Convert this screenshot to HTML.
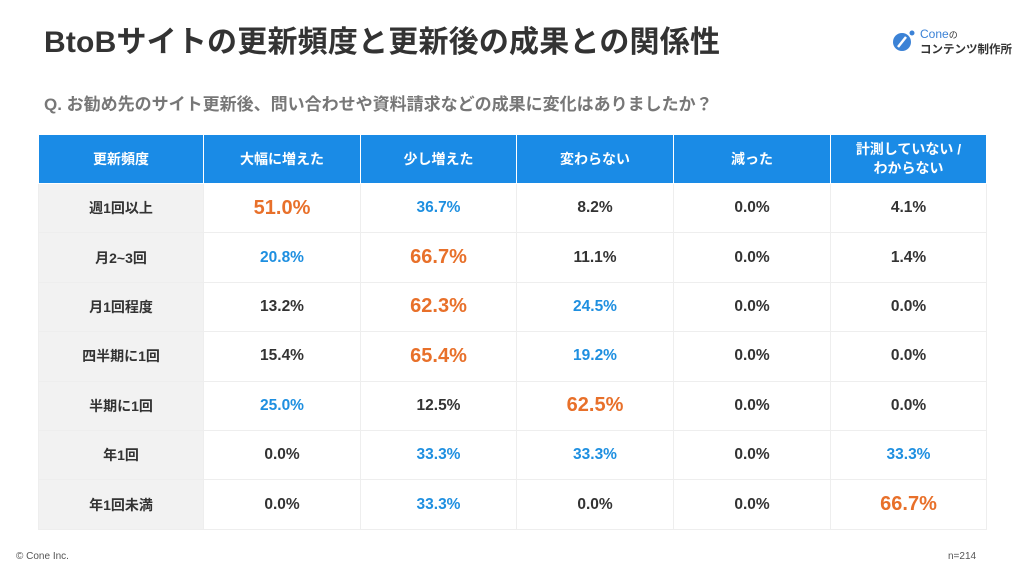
<!DOCTYPE html>
<html><head><meta charset="utf-8"><style>
body{margin:0;width:1024px;height:576px;background:#fff;font-family:"Liberation Sans","Noto Sans CJK JP",sans-serif;position:relative;overflow:hidden;color:#333}
.t{position:absolute;left:44px;top:17px;font-size:30px;font-weight:bold;color:#333;letter-spacing:0.2px}
.q{position:absolute;left:44px;top:90px;font-size:17px;font-weight:bold;color:#777}
table{position:absolute;left:38px;top:134px;border-collapse:collapse;table-layout:fixed}
td,th{text-align:center;border:1px solid #eee;padding:0}
th{background:#1a8be6;color:#fff;font-size:14px;font-weight:bold;height:48px;border:1px solid #fff;line-height:19px}
td{height:48.4px;font-size:15.5px;font-weight:600;color:#333}
td.h{background:#f2f2f2;font-size:14px;font-weight:bold}
.o{color:#e8702a;font-size:20px}
.b{color:#1e8fe0}
.f{position:absolute;font-size:10px;color:#555;top:551px}
</style></head><body>
<div class="t">BtoBサイトの更新頻度と更新後の成果との関係性</div>
<svg style="position:absolute;left:892px;top:29px" width="24" height="24"><circle cx="10" cy="13" r="9" fill="#3b82d6"/><line x1="6" y1="18" x2="14" y2="8" stroke="#fff" stroke-width="2.5"/><circle cx="20" cy="4" r="2.5" fill="#3b82d6"/></svg>
<div style="position:absolute;left:920px;top:27px;font-size:12px;color:#3b82d6">Cone<span style="color:#333;font-size:9px">の</span></div>
<div style="position:absolute;left:920px;top:41px;font-size:11.5px;color:#333;font-weight:bold">コンテンツ制作所</div>
<div class="q">Q. お勧め先のサイト更新後、問い合わせや資料請求などの成果に変化はありましたか？</div>
<table>
<colgroup><col style="width:165px"><col style="width:157px"><col style="width:156px"><col style="width:157px"><col style="width:157px"><col style="width:156px"></colgroup>
<tr><th>更新頻度</th><th>大幅に増えた</th><th>少し増えた</th><th>変わらない</th><th>減った</th><th>計測していない /<br>わからない</th></tr>
<tr><td class="h">週1回以上</td><td class="o">51.0%</td><td class="b">36.7%</td><td>8.2%</td><td>0.0%</td><td>4.1%</td></tr>
<tr><td class="h">月2~3回</td><td class="b">20.8%</td><td class="o">66.7%</td><td>11.1%</td><td>0.0%</td><td>1.4%</td></tr>
<tr><td class="h">月1回程度</td><td>13.2%</td><td class="o">62.3%</td><td class="b">24.5%</td><td>0.0%</td><td>0.0%</td></tr>
<tr><td class="h">四半期に1回</td><td>15.4%</td><td class="o">65.4%</td><td class="b">19.2%</td><td>0.0%</td><td>0.0%</td></tr>
<tr><td class="h">半期に1回</td><td class="b">25.0%</td><td>12.5%</td><td class="o">62.5%</td><td>0.0%</td><td>0.0%</td></tr>
<tr><td class="h">年1回</td><td>0.0%</td><td class="b">33.3%</td><td class="b">33.3%</td><td>0.0%</td><td class="b">33.3%</td></tr>
<tr><td class="h">年1回未満</td><td>0.0%</td><td class="b">33.3%</td><td>0.0%</td><td>0.0%</td><td class="o">66.7%</td></tr>
</table>
<div class="f" style="left:16px">© Cone Inc.</div>
<div class="f" style="left:948px">n=214</div>
</body></html>
